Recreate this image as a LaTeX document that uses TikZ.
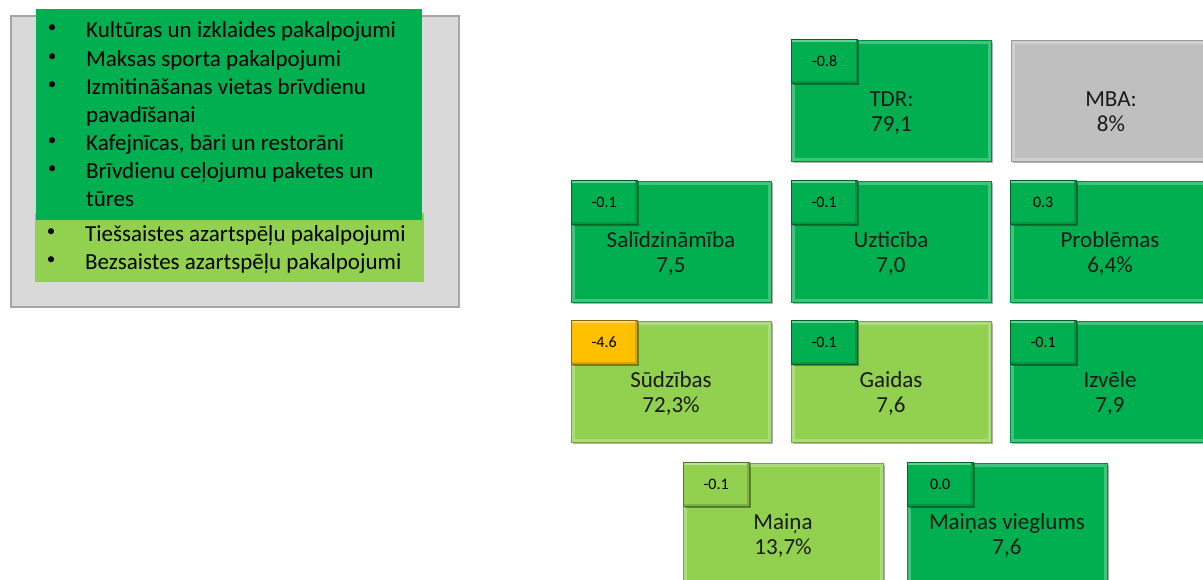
\documentclass[tikz,border=0pt]{standalone}
\usepackage{fontspec}
\setmainfont{Carlito}
\usetikzlibrary{shadows}
\definecolor{dg}{HTML}{00B050}
\definecolor{lg}{HTML}{92D050}
\definecolor{yl}{HTML}{FFC000}
\definecolor{gy}{HTML}{BFBFBF}
\definecolor{pf}{HTML}{D9D9D9}
\definecolor{pb}{HTML}{A6A6A6}
\definecolor{tx}{HTML}{1A1A1A}
\tikzset{
  kbox/.style={rectangle, minimum width=200pt, minimum height=121pt, inner sep=0pt,
    fill=#1, draw=#1!80!black, line width=0.5pt,
    drop shadow={shadow xshift=1.5pt, shadow yshift=-1.5pt, opacity=0.3, fill=black},
    path picture={
      \draw[#1!45!white, line width=3pt] (path picture bounding box.south west) rectangle (path picture bounding box.north east);
      \draw[#1!75!white, line width=7pt] (path picture bounding box.south west) rectangle (path picture bounding box.north east);
    }},
  ktag/.style={rectangle, anchor=north west, minimum width=66pt, minimum height=44pt, inner sep=0pt,
    fill=#1, draw=#1!55!black, line width=0.8pt, text=black,
    font=\fontsize{16}{16}\selectfont,
    drop shadow={shadow xshift=1.5pt, shadow yshift=-1.5pt, opacity=0.35, fill=black},
    path picture={
      \draw[#1!60!white, line width=5pt] (path picture bounding box.north west) -- (path picture bounding box.north east);
      \draw[#1!85!black, line width=5pt] (path picture bounding box.south west) -- (path picture bounding box.south east);
      \draw[#1!85!black, line width=4pt] (path picture bounding box.south east) -- (path picture bounding box.north east);
    }},
  ktext/.style={anchor=base, inner sep=0pt, text=tx, font=\fontsize{23}{24}\selectfont},
  litem/.style={anchor=base west, inner sep=0pt, text=black, font=\fontsize{23}{24}\selectfont},
  lbul/.style={anchor=center, inner sep=0pt, text=black, font=\fontsize{17}{17}\selectfont},
}
\newcommand\kpi[8]{%
  \node[kbox=#4] (#1) at (#2,#3+60.5) {};
  \node[ktext] (#1t) at ([yshift=-67pt]#1.north) {#5};
  \node[ktext] (#1v) at ([yshift=-92pt]#1.north) {#6};
  \node[ktag=#8] (#1g) at ([yshift=1pt]#1.north west) {#7};
}
\begin{document}
\begin{tikzpicture}[x=1pt,y=-1pt]
\useasboundingbox (0,0) rectangle (1203,579);
\clip (0,0) rectangle (1203,579);
% left panel
\node[rectangle, minimum width=448pt, minimum height=291pt, inner sep=0pt, fill=pf, draw=pb, line width=2.5pt] (panel) at (234.85,161.5) {};
\node[rectangle, minimum width=389pt, minimum height=69pt, inner sep=0pt, fill=lg] (lgbox) at (229.5,247.5) {};
\node[rectangle, minimum width=386pt, minimum height=210.7pt, inner sep=0pt, fill=dg] (dgbox) at (229,114.7) {};
\node[lbul] (b1) at (52,29) {•};
\node[litem] (l1) at (86,37) {Kultūras un izklaides pakalpojumi};
\node[lbul] (b2) at (52,58) {•};
\node[litem] (l2) at (86,66) {Maksas sporta pakalpojumi};
\node[lbul] (b3) at (52,86) {•};
\node[litem] (l3) at (86,94) {Izmitināšanas vietas brīvdienu};
\node[litem] (l3b) at (86,122) {pavadīšanai};
\node[lbul] (b4) at (52,142) {•};
\node[litem] (l4) at (86,150) {Kafejnīcas, bāri un restorāni};
\node[lbul] (b5) at (52,170) {•};
\node[litem] (l5) at (86,178) {Brīvdienu ceļojumu paketes un};
\node[litem] (l5b) at (86,206) {tūres};
\node[lbul] (b6) at (51,233) {•};
\node[litem] (l6) at (85,241) {Tiešsaistes azartspēļu pakalpojumi};
\node[lbul] (b7) at (51,261) {•};
\node[litem] (l7) at (85,269) {Bezsaistes azartspēļu pakalpojumi};
% KPI boxes
\kpi{tdr}{891.5}{40}{dg}{TDR:}{79,1}{-0.8}{dg}
\node[kbox=gy] (mba) at (1111,100.5) {};
\node[ktext] (mbat) at ([yshift=-67pt]mba.north) {MBA:};
\node[ktext] (mbav) at ([yshift=-92pt]mba.north) {8\%};
\kpi{sal}{671}{181}{dg}{Salīdzināmība}{7,5}{-0.1}{dg}
\kpi{uzt}{891}{181}{dg}{Uzticība}{7,0}{-0.1}{dg}
\kpi{pro}{1110}{181}{dg}{Problēmas}{6,4\%}{0.3}{dg}
\kpi{sud}{671}{321}{lg}{Sūdzības}{72,3\%}{-4.6}{yl}
\kpi{gai}{891}{321}{lg}{Gaidas}{7,6}{-0.1}{dg}
\kpi{izv}{1110}{321}{dg}{Izvēle}{7,9}{-0.1}{dg}
\kpi{mai}{783}{463}{lg}{Maiņa}{13,7\%}{-0.1}{lg}
\kpi{mav}{1007}{463}{dg}{Maiņas vieglums}{7,6}{0.0}{dg}
\end{tikzpicture}
\end{document}
